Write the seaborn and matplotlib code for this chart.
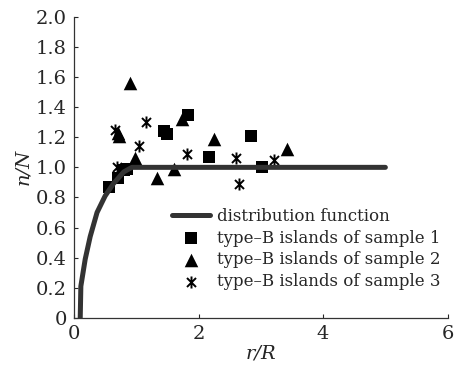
import numpy as np
import pandas as pd
import matplotlib
matplotlib.use("Agg")
import matplotlib.pyplot as plt
from matplotlib.path import Path
import seaborn as sns

# distribution function
dist_x = [0.10, 0.11, 0.18, 0.26, 0.37, 0.50, 0.63, 0.80, 0.93, 5.00]
dist_y = [0.00, 0.21, 0.39, 0.54, 0.70, 0.81, 0.89, 0.97, 1.00, 1.00]

# type-B islands, sample 1 (squares)
s1_x = [0.57, 0.70, 0.80, 0.85, 1.44, 1.50, 1.83, 2.17, 2.85, 3.02]
s1_y = [0.87, 0.93, 0.98, 0.99, 1.24, 1.22, 1.35, 1.07, 1.21, 1.00]

# sample 2 (triangles)
s2_x = [0.90, 0.70, 0.72, 0.98, 1.33, 1.60, 1.74, 2.25, 3.42]
s2_y = [1.56, 1.23, 1.21, 1.06, 0.93, 0.99, 1.32, 1.19, 1.12]

# sample 3 (asterisks)
s3_x = [0.66, 0.69, 1.05, 1.15, 1.82, 2.60, 2.65, 3.21]
s3_y = [1.25, 1.00, 1.14, 1.30, 1.09, 1.06, 0.89, 1.05]

x_ticks = [0, 2, 4, 6]
y_ticks = [0, 0.2, 0.4, 0.6, 0.8, 1.0, 1.2, 1.4, 1.6, 1.8, 2.0]
y_labels = ["0"] + [f"{v:.1f}" for v in y_ticks[1:]]

sns.set_style("ticks")
plt.rcParams["font.family"] = ["DejaVu Serif"]
plt.rcParams["xtick.direction"] = "in"
plt.rcParams["ytick.direction"] = "in"

# asterisk marker: vertical bar plus an x
ast = Path([(0, -1), (0, 1), (-0.75, -0.75), (0.75, 0.75), (-0.75, 0.75), (0.75, -0.75)],
           [Path.MOVETO, Path.LINETO, Path.MOVETO, Path.LINETO, Path.MOVETO, Path.LINETO])

fig = plt.figure(figsize=(4.54, 3.67), dpi=100)
ax = fig.add_axes([0.163, 0.134, 0.823, 0.82])

sns.lineplot(x=dist_x, y=dist_y, ax=ax, color="#333333", linewidth=3.6,
             sort=False, label="distribution function")
sns.scatterplot(x=s1_x, y=s1_y, ax=ax, marker="s", color="black", edgecolor="black",
                s=85, linewidth=0, label="type\u2013B islands of sample 1")
sns.scatterplot(x=s2_x, y=s2_y, ax=ax, marker="^", color="black", edgecolor="black",
                s=95, linewidth=0, label="type\u2013B islands of sample 2")
sns.scatterplot(x=s3_x, y=s3_y, ax=ax, marker=ast, color="black", edgecolor="black",
                s=75, linewidth=1.4, label="type\u2013B islands of sample 3")

ax.set_xlim(0, 6)
ax.set_ylim(0, 2.0)
ax.set_xticks(x_ticks)
ax.set_yticks(y_ticks)
ax.set_yticklabels(y_labels)
ax.tick_params(labelsize=14, length=3, width=0.8)
ax.tick_params(axis="x", pad=5)
ax.tick_params(axis="y", pad=5)
sns.despine(ax=ax)
for sp in ["left", "bottom"]:
    ax.spines[sp].set_linewidth(0.9)
    ax.spines[sp].set_color("#333333")

ax.set_xlabel("r/R", fontsize=14, style="italic", labelpad=1)
ax.set_ylabel("n/N", fontsize=14, style="italic", labelpad=3)

ax.legend(loc="lower right", bbox_to_anchor=(1.0, 0.07), frameon=False, fontsize=12,
          handlelength=2.3, handletextpad=0.45, labelspacing=0.28, borderaxespad=0)

fig.savefig("out.png", dpi=100)
